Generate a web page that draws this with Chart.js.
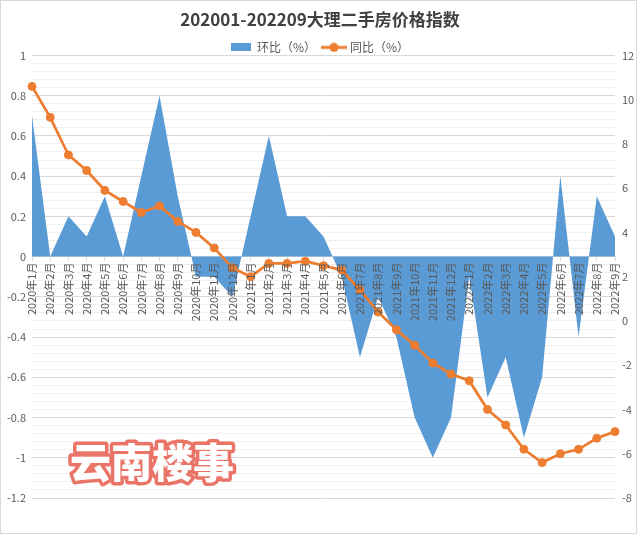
<!DOCTYPE html>
<html lang="zh-CN">
<head>
<meta charset="utf-8">
<title>202001-202209大理二手房价格指数</title>
<script src="https://cdn.jsdelivr.net/npm/chart.js@4.4.1/dist/chart.umd.min.js"></script>
<style>
    html, body { margin: 0; padding: 0; background: #fff; }
    #wrap { width: 640px; height: 534px; }
</style>
</head>
<body>
<div id="wrap"><canvas id="chart" width="640" height="534"></canvas></div>
<script>
// Data
const months = [
    '2020年1月', '2020年2月', '2020年3月', '2020年4月', '2020年5月', '2020年6月',
    '2020年7月', '2020年8月', '2020年9月', '2020年10月', '2020年11月', '2020年12月',
    '2021年1月', '2021年2月', '2021年3月', '2021年4月', '2021年5月', '2021年6月',
    '2021年7月', '2021年8月', '2021年9月', '2021年10月', '2021年11月', '2021年12月',
    '2022年1月', '2022年2月', '2022年3月', '2022年4月', '2022年5月', '2022年6月',
    '2022年7月', '2022年8月', '2022年9月'
];

// 环比 (%), left axis
const momChange = [
    0.7, 0, 0.2, 0.1, 0.3, 0, 0.4, 0.8, 0.3, -0.1, -0.1, -0.2,
    0.2, 0.6, 0.2, 0.2, 0.1, -0.1, -0.5, -0.2, -0.4, -0.8, -1.0, -0.8,
    -0.1, -0.7, -0.5, -0.9, -0.6, 0.4, -0.4, 0.3, 0.1
];

// 同比 (%), right axis
const yoyChange = [
    10.6, 9.2, 7.5, 6.8, 5.9, 5.4, 4.9, 5.2, 4.5, 4.0, 3.3, 2.4,
    2.0, 2.6, 2.6, 2.7, 2.5, 2.3, 1.4, 0.4, -0.4, -1.1, -1.9, -2.4,
    -2.7, -4.0, -4.7, -5.8, -6.4, -6.0, -5.8, -5.3, -5.0
];

const leftMin = -1.2, leftMax = 1, leftStep = 0.2;
const rightMin = -8, rightMax = 12, rightStep = 2;

const FONT = '"Noto Sans CJK SC", "Noto Sans", sans-serif';
const TEXT = '#595959';
const BLUE = '#5b9bd5';
const ORANGE = '#ed7d31';

// Legend icons: a filled box and a line with a round marker
function makeBoxIcon(color) {
    const c = document.createElement('canvas');
    c.width = 20; c.height = 8;
    const g = c.getContext('2d');
    g.fillStyle = color;
    g.fillRect(0, 0, 20, 8);
    return c;
}

function makeLineIcon(color) {
    const c = document.createElement('canvas');
    c.width = 26; c.height = 10;
    const g = c.getContext('2d');
    g.strokeStyle = color;
    g.lineWidth = 3;
    g.beginPath(); g.moveTo(0, 5); g.lineTo(26, 5); g.stroke();
    g.fillStyle = color;
    g.beginPath(); g.arc(13, 5, 4.5, 0, Math.PI * 2); g.fill();
    return c;
}

const legendIcons = [makeBoxIcon(BLUE), makeLineIcon(ORANGE)];

// Pull the plot a bit closer to the legend
const tightLegend = {
    id: 'tightLegend',
    beforeLayout(chart) {
        const legend = chart.legend;
        if (!legend || legend._tight) return;
        const fit = legend.fit;
        legend.fit = function () {
            fit.call(this);
            this.height -= 8;
        };
        legend._tight = true;
    }
};

// Frame and the "云南楼事" stamp
const decorations = {
    id: 'decorations',
    afterDraw(chart) {
        const ctx = chart.ctx;
        ctx.save();
        ctx.strokeStyle = '#d9d9d9';
        ctx.lineWidth = 1;
        ctx.strokeRect(0.5, 0.5, 636, 533);

        ctx.font = '900 41px ' + FONT;
        ctx.textAlign = 'center';
        ctx.textBaseline = 'middle';
        ctx.lineJoin = 'round';
        ctx.lineWidth = 7;
        ctx.strokeStyle = '#ea7468';
        ctx.strokeText('云南楼事', 152, 462);
        ctx.fillStyle = '#ffffff';
        ctx.fillText('云南楼事', 152, 462);
        ctx.restore();
    }
};

const isMajor = v => Math.round(v * 100) % Math.round(leftStep * 100) === 0;

const ctx = document.getElementById('chart').getContext('2d');

new Chart(ctx, {
    type: 'line',
    data: {
        labels: months,
        datasets: [
            {
                label: '环比（%）',
                data: momChange,
                yAxisID: 'y',
                fill: 'origin',
                backgroundColor: BLUE,
                borderColor: 'rgba(0,0,0,0)',
                borderWidth: 0,
                pointRadius: 0,
                tension: 0,
                order: 1
            },
            {
                label: '同比（%）',
                data: yoyChange,
                yAxisID: 'y1',
                fill: false,
                borderColor: ORANGE,
                backgroundColor: ORANGE,
                borderWidth: 2.75,
                pointRadius: 4,
                pointBorderWidth: 1,
                pointBackgroundColor: ORANGE,
                pointBorderColor: ORANGE,
                tension: 0,
                order: 0
            }
        ]
    },
    options: {
        responsive: false,
        animation: false,
        layout: {
            padding: { left: 0, right: 0, top: 0, bottom: 36 }
        },
        plugins: {
            title: {
                display: true,
                text: '202001-202209大理二手房价格指数',
                color: '#404040',
                font: { family: FONT, size: 17, weight: 'bold' },
                padding: { top: 9, bottom: 4 }
            },
            legend: {
                position: 'top',
                labels: {
                    usePointStyle: true,
                    pointStyleWidth: 20,
                    padding: 8,
                    color: TEXT,
                    font: { family: FONT, size: 12 },
                    generateLabels: chart => chart.data.datasets.map((ds, i) => ({
                        text: ds.label,
                        pointStyle: legendIcons[i],
                        fillStyle: ds.backgroundColor,
                        strokeStyle: ds.backgroundColor,
                        lineWidth: 0,
                        fontColor: TEXT,
                        hidden: false,
                        datasetIndex: i
                    }))
                }
            },
            tooltip: { enabled: false }
        },
        scales: {
            x: {
                type: 'category',
                position: { y: 0 },
                offset: false,
                grid: {
                    display: true,
                    drawOnChartArea: false,
                    drawTicks: true,
                    tickLength: 4,
                    color: '#d9d9d9'
                },
                border: { display: true, color: '#d9d9d9' },
                ticks: {
                    autoSkip: false,
                    minRotation: 90,
                    maxRotation: 90,
                    padding: 2,
                    color: TEXT,
                    font: { family: FONT, size: 11 },
                    z: 1
                }
            },
            y: {
                position: 'left',
                min: leftMin,
                max: leftMax,
                afterFit: scale => { scale.width = 32; },
                border: { display: false },
                grid: {
                    drawTicks: false,
                    color: c => (c.tick && isMajor(c.tick.value)) ? '#d9d9d9' : '#f0f0f0'
                },
                ticks: {
                    stepSize: leftStep / 5,
                    maxTicksLimit: 100,
                    autoSkip: false,
                    padding: 6,
                    color: TEXT,
                    font: { family: FONT, size: 11 },
                    callback: v => isMajor(v) ? String(Math.round(v * 10) / 10) : ''
                }
            },
            y1: {
                position: 'right',
                min: rightMin,
                max: rightMax,
                afterFit: scale => { scale.width = 25; },
                border: { display: false },
                grid: { display: false, drawTicks: false },
                ticks: {
                    stepSize: rightStep,
                    padding: 7,
                    color: TEXT,
                    font: { family: FONT, size: 11 }
                }
            }
        }
    },
    plugins: [tightLegend, decorations]
});
</script>
</body>
</html>
